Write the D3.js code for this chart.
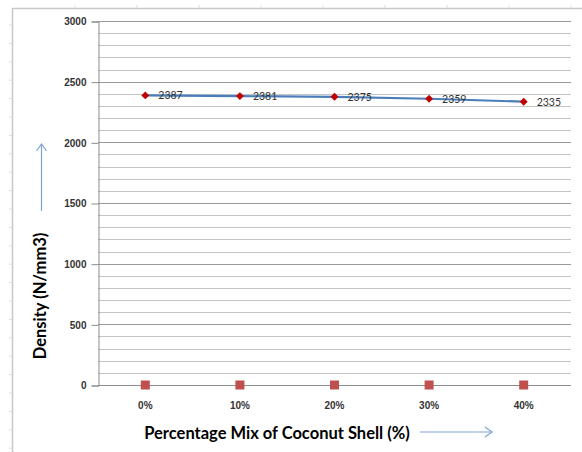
<!DOCTYPE html>
<html>
<head>
<meta charset="utf-8">
<script src="https://cdn.jsdelivr.net/npm/d3@7"></script>
<style>
  body { margin: 0; background: #fff; }
  svg { display: block; font-family: Lato, "Open Sans", sans-serif; }
</style>
</head>
<body>
<svg id="chart"></svg>
<script>
const categories = ["0%", "10%", "20%", "30%", "40%"];
const density = [2387, 2381, 2375, 2359, 2335];
const baseSeries = [0, 0, 0, 0, 0];
const yTicks = [0, 500, 1000, 1500, 2000, 2500, 3000];

const width = 582, height = 452;
const margin = { top: 21, right: 11, bottom: 67, left: 98 };

const svg = d3.select("#chart")
    .attr("width", width)
    .attr("height", height);

// outer frame (sheet-like border with little marks)
svg.append("line")
    .attr("x1", 12.5).attr("x2", 12.5).attr("y1", 8).attr("y2", height)
    .attr("stroke", "#c8c8c8").attr("stroke-width", 1.5);
svg.append("line")
    .attr("x1", 12).attr("x2", width).attr("y1", 8.5).attr("y2", 8.5)
    .attr("stroke", "#c8c8c8").attr("stroke-width", 1.5);
d3.range(25, height, 18.4).forEach(y => {
  svg.append("line")
      .attr("x1", 9).attr("x2", 12).attr("y1", y).attr("y2", y)
      .attr("stroke", "#dddddd");
});
d3.range(75, width, 62).forEach(x => {
  svg.append("line")
      .attr("x1", x).attr("x2", x).attr("y1", 5).attr("y2", 8)
      .attr("stroke", "#dddddd");
});

const x = d3.scaleBand()
    .domain(categories)
    .range([margin.left, width - margin.right]);

const y = d3.scaleLinear()
    .domain([0, 3000])
    .range([height - margin.bottom, margin.top]);

// minor gridlines every 100
const minor = d3.range(100, 3001, 100);
svg.append("g")
    .selectAll("line")
    .data(minor)
    .join("line")
    .attr("x1", margin.left).attr("x2", width - margin.right)
    .attr("y1", d => Math.round(y(d)) + 0.5).attr("y2", d => Math.round(y(d)) + 0.5)
    .attr("stroke", d => d % 500 === 0 ? "#9a9a9a" : "#c4c4c4")
    .attr("stroke-width", 1);

// y axis
const yAxis = svg.append("g")
    .attr("transform", `translate(${margin.left + 0.5},0.5)`)
    .call(d3.axisLeft(y).tickValues(yTicks).tickFormat(d3.format("d")).tickSize(7).tickPadding(5));
yAxis.select(".domain").attr("stroke", "#8c8c8c");
yAxis.selectAll(".tick line").attr("stroke", "#8c8c8c");
yAxis.selectAll(".tick text")
    .attr("font-size", 10).attr("font-weight", "bold").attr("fill", "#333");

// x axis baseline
svg.append("line")
    .attr("x1", margin.left).attr("x2", width - margin.right)
    .attr("y1", Math.round(y(0)) + 0.5).attr("y2", Math.round(y(0)) + 0.5)
    .attr("stroke", "#8c8c8c");

const xAxis = svg.append("g")
    .attr("transform", `translate(0,${y(0)})`)
    .call(d3.axisBottom(x).tickSize(0).tickPadding(17));
xAxis.select(".domain").remove();
xAxis.selectAll(".tick text")
    .attr("font-size", 10).attr("font-weight", "bold").attr("fill", "#333");

// second series: squares at zero
svg.append("g")
    .selectAll("rect")
    .data(baseSeries)
    .join("rect")
    .attr("x", (d, i) => x(categories[i]) + x.bandwidth() / 2 - 4.5)
    .attr("y", d => y(d) - 4.5)
    .attr("width", 9).attr("height", 9)
    .attr("fill", "#c0504d");

// density line
const line = d3.line()
    .x((d, i) => x(categories[i]) + x.bandwidth() / 2)
    .y(d => y(d));

svg.append("path")
    .datum(density)
    .attr("fill", "none")
    .attr("stroke", "#4a7ebb")
    .attr("stroke-width", 2.2)
    .attr("d", line);

svg.append("g")
    .selectAll("path")
    .data(density)
    .join("path")
    .attr("transform", (d, i) => `translate(${x(categories[i]) + x.bandwidth() / 2},${y(d)})`)
    .attr("d", d3.symbol(d3.symbolDiamond2, 40))
    .attr("fill", "#c00000");

svg.append("g")
    .selectAll("text")
    .data(density)
    .join("text")
    .attr("x", (d, i) => x(categories[i]) + x.bandwidth() / 2 + 13)
    .attr("y", d => y(d) + 4)
    .attr("font-size", 10.5)
    .attr("fill", "#333")
    .text(d => d);

// axis titles with arrows
const arrowColor = "#7ea4d3";

svg.append("text")
    .attr("x", 277)
    .attr("y", 439)
    .attr("text-anchor", "middle")
    .attr("font-size", 16.5)
    .attr("font-weight", "bold")
    .attr("fill", "#000")
    .text("Percentage Mix of Coconut Shell (%)");

svg.append("line")
    .attr("x1", 420).attr("x2", 492).attr("y1", 432).attr("y2", 432)
    .attr("stroke", arrowColor).attr("stroke-width", 1.2);
svg.append("path")
    .attr("d", "M485,427 L492,432 L485,437")
    .attr("fill", "none").attr("stroke", arrowColor).attr("stroke-width", 1.2);

svg.append("text")
    .attr("transform", "translate(46,296) rotate(-90)")
    .attr("text-anchor", "middle")
    .attr("font-size", 16.5)
    .attr("font-weight", "bold")
    .attr("fill", "#000")
    .text("Density (N/mm3)");

svg.append("line")
    .attr("x1", 41.5).attr("x2", 41.5).attr("y1", 211).attr("y2", 144)
    .attr("stroke", arrowColor).attr("stroke-width", 1.2);
svg.append("path")
    .attr("d", "M36.5,151 L41.5,144 L46.5,151")
    .attr("fill", "none").attr("stroke", arrowColor).attr("stroke-width", 1.2);
</script>
</body>
</html>
